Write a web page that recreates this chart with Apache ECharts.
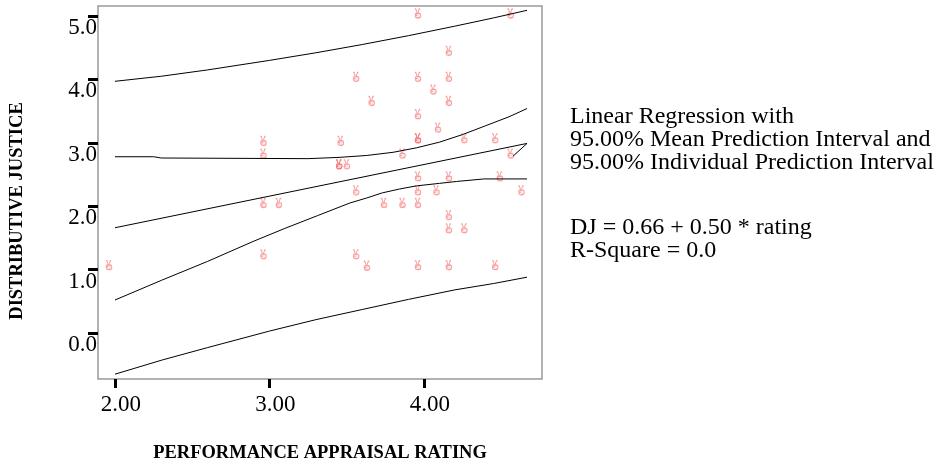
<!DOCTYPE html>
<html><head><meta charset="utf-8">
<script src="https://cdn.jsdelivr.net/npm/echarts@6/dist/echarts.min.js"></script>
<style>html,body{margin:0;padding:0;background:#fff}#c{width:936px;height:466px}</style>
</head><body><div id="c"></div>
<script>
const xTicks = [2, 3, 4];
const yTicks = [0, 1, 2, 3, 4, 5];

const ratingValues = [1.96, 2.96, 2.96, 2.96, 3.06, 2.96, 3.46, 3.45, 3.45, 3.50, 3.56, 3.66, 3.56, 3.74, 3.56, 3.63,
  3.86, 3.86, 3.96, 3.96, 3.96, 3.96, 3.96, 3.96, 3.96, 3.96, 3.96, 4.06, 4.09, 4.08, 4.16, 4.16, 4.16, 4.16, 4.16,
  4.16, 4.16, 4.26, 4.26, 4.46, 4.49, 4.46, 4.56, 4.56, 4.63];
const djValues = [1.07, 3.03, 2.83, 2.05, 2.05, 1.24, 3.03, 2.66, 2.66, 2.66, 4.04, 3.66, 2.25, 2.05, 1.24, 1.06,
  2.83, 2.05, 5.04, 4.04, 3.45, 3.07, 3.07, 2.47, 2.25, 2.05, 1.07, 3.84, 3.24, 2.25, 4.45, 4.04, 3.66, 2.47, 1.86,
  1.65, 1.07, 3.07, 1.65, 3.07, 2.47, 1.07, 5.04, 2.83, 2.25];

const fitX = [2.00, 4.667, 4.577];
const fitY = [1.66, 2.99, 2.79];
const meanUpperX = [2.00, 2.25, 2.30, 3.25, 3.45, 3.63, 3.80, 3.95, 4.10, 4.25, 4.40, 4.55, 4.667];
const meanUpperY = [2.78, 2.78, 2.76, 2.75, 2.77, 2.80, 2.85, 2.92, 3.01, 3.13, 3.27, 3.41, 3.54];
const meanLowerX = [2.00, 2.30, 2.60, 2.90, 3.10, 3.31, 3.52, 3.63, 3.73, 3.84, 3.95, 4.10, 4.21, 4.39, 4.667];
const meanLowerY = [0.52, 0.83, 1.13, 1.45, 1.65, 1.85, 2.05, 2.13, 2.21, 2.27, 2.32, 2.36, 2.39, 2.43, 2.43];
const indivX = [2.00, 2.30, 2.60, 3.00, 3.30, 3.60, 3.90, 4.20, 4.45, 4.667];
const indivUpperY = [3.97, 4.05, 4.15, 4.30, 4.42, 4.55, 4.69, 4.84, 4.97, 5.09];
const indivLowerY = [-0.65, -0.43, -0.23, 0.03, 0.21, 0.37, 0.53, 0.68, 0.78, 0.88];

const legendLines = ['Linear Regression with', '95.00% Mean Prediction Interval and', '95.00% Individual Prediction Interval'];
const equationLines = ['DJ = 0.66 + 0.50 * rating', 'R-Square = 0.0'];
const xTitle = 'PERFORMANCE APPRAISAL RATING';
const yTitle = 'DISTRIBUTIVE JUSTICE';

const SERIF = '"Liberation Serif", "Times New Roman", serif';
// outline of the small "hand" marker glyph used by the original plot
const HAND = 'path://M1,0 L2.2,0 L3.6,4.6 M7,0 L5.8,0 L4.4,4.6 M2.2,4.8 L5.8,4.8 Q7.6,4.8 7.6,7.2 Q7.6,10 4.6,10 Q1.4,10 1.4,7.4 Q1.4,4.8 2.2,4.8 M1.4,7 L3.6,7';
const zip = (xs, ys) => xs.map((x, i) => [x, ys[i]]);
const lineSeries = (xs, ys) => ({
  type: 'line', data: zip(xs, ys), symbol: 'none', silent: true, z: 3,
  lineStyle: { color: '#000', width: 1 }
});

const chart = echarts.init(document.getElementById('c'), null, { renderer: 'canvas' });
chart.setOption({
  animation: false,
  backgroundColor: '#fff',
  grid: { left: 98, right: 394, top: 6, bottom: 87, containLabel: false, outerBoundsMode: 'none',
    show: true, borderColor: '#999', borderWidth: 1.5 },
  xAxis: {
    type: 'value', min: 1.89, max: 4.764,
    axisLine: { show: false, onZero: false },
    splitLine: { show: false },
    axisTick: { show: true, customValues: xTicks, length: 9, lineStyle: { color: '#000', width: 3 } },
    axisLabel: { customValues: xTicks, formatter: v => v.toFixed(2), fontFamily: SERIF, fontSize: 23,
      color: '#000', margin: 14, padding: [0, 0, 0, 12] },
    name: xTitle, nameLocation: 'middle', nameGap: 65,
    nameTextStyle: { fontFamily: SERIF, fontWeight: 'bold', fontSize: 18.5, color: '#000' }
  },
  yAxis: {
    type: 'value', min: -0.726, max: 5.158,
    axisLine: { show: false, onZero: false },
    splitLine: { show: false },
    axisTick: { show: true, customValues: yTicks, length: 10, lineStyle: { color: '#000', width: 3 } },
    axisLabel: { customValues: yTicks, formatter: v => v.toFixed(1), fontFamily: SERIF, fontSize: 23,
      color: '#000', margin: 1, verticalAlign: 'top', lineHeight: 24 }
  },
  graphic: [
    { type: 'text', x: 17, y: 211, rotation: Math.PI / 2,
      style: { text: yTitle, font: 'bold 18.5px ' + SERIF, fill: '#000', align: 'center', verticalAlign: 'middle' } },
    { type: 'text', x: 570, y: 105,
      style: { text: legendLines.join('\n'), font: '24px ' + SERIF, lineHeight: 23, fill: '#000', verticalAlign: 'top' } },
    { type: 'text', x: 570, y: 216,
      style: { text: equationLines.join('\n'), font: '24px ' + SERIF, lineHeight: 23, fill: '#000', verticalAlign: 'top' } }
  ],
  series: [
    {
      type: 'scatter', data: zip(ratingValues, djValues), symbol: HAND, symbolSize: [6, 9], silent: true, z: 2,
      itemStyle: { color: 'rgba(250,170,170,0.35)', borderColor: 'rgba(240,70,70,0.6)', borderWidth: 1.1 }
    },
    lineSeries(indivX, indivUpperY),
    lineSeries(meanUpperX, meanUpperY),
    lineSeries(fitX, fitY),
    lineSeries(meanLowerX, meanLowerY),
    lineSeries(indivX, indivLowerY)
  ]
});
</script>
</body></html>
